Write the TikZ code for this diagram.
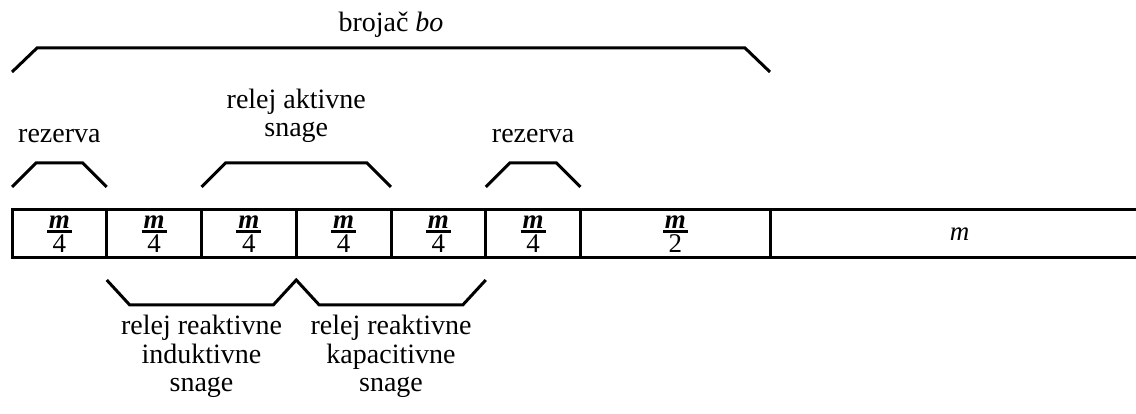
\documentclass[tikz,border=0pt]{standalone}
\usepackage{fontspec}
\setmainfont{Liberation Serif}
\usetikzlibrary{positioning,calc}
\newcommand{\dio}[1]{\vbox{\offinterlineskip\halign{\hfil##\hfil\cr
  \textbf{\textit{m}}\cr\noalign{\kern2pt}
  \vrule width 25pt height 2.5pt depth 0pt\cr\noalign{\kern2pt}
  #1\cr}}}
\tikzset{
  celija/.style={draw,line width=3pt,minimum height=48pt,inner sep=0pt,outer sep=0pt,
    font=\fontsize{27}{28.5}\selectfont},
  zagrada/.style={line width=3pt},
  oznaka/.style={align=center,inner sep=0pt,font=\fontsize{28}{28.5}\selectfont}
}

\begin{document}
\begin{tikzpicture}[x=1pt,y=1pt]
  \useasboundingbox (0,0) rectangle (1136,414);
  % traka
  \node[celija,minimum width=94.75pt] (c1) at (59.375,180) {\dio{4}};
  \node[celija,minimum width=94.75pt,right=0pt of c1] (c2) {\dio{4}};
  \node[celija,minimum width=94.75pt,right=0pt of c2] (c3) {\dio{4}};
  \node[celija,minimum width=94.75pt,right=0pt of c3] (c4) {\dio{4}};
  \node[celija,minimum width=94.75pt,right=0pt of c4] (c5) {\dio{4}};
  \node[celija,minimum width=94.75pt,right=0pt of c5] (c6) {\dio{4}};
  \node[celija,minimum width=189.5pt,right=0pt of c6] (c7) {\dio{2}};
  \node[celija,minimum width=379pt,right=0pt of c7] (c8) {\textit{m}};
  % zagrade iznad
  \draw[zagrada] ($(c1.north west)+(0,23)$) -- ++(24,24) -- ($(c1.north east)+(-24,47)$) -- ++(24,-24);
  \draw[zagrada] ($(c3.north west)+(0,23)$) -- ++(24,24) -- ($(c4.north east)+(-24,47)$) -- ++(24,-24);
  \draw[zagrada] ($(c6.north west)+(0,23)$) -- ++(24,24) -- ($(c6.north east)+(-24,47)$) -- ++(24,-24);
  \draw[zagrada] ($(c1.north west)+(0,138)$) -- ++(25,24) -- ($(c7.north east)+(-25,162)$) -- ++(25,-24);
  % zagrade ispod
  \draw[zagrada] ($(c2.south west)+(0,-22)$) -- ++(23,-25) -- ($(c3.south east)+(-23,-47)$) -- ++(23,25)
    -- ++(23,-25) -- ($(c5.south east)+(-23,-47)$) -- ++(23,25);
  % oznake
  \node[oznaka,anchor=base] (brojac) at ($(c1.north west)!0.5!(c7.north east)+(0,178)$) {brojač \textit{bo}};
  \node[oznaka,anchor=base] (rez1) at ($(c1.north)+(0,67)$) {rezerva};
  \node[oznaka,anchor=base] (rez2) at ($(c6.north)+(0,67)$) {rezerva};
  \node[oznaka,anchor=base] (aktivna) at ($(c3.north east)+(0,73)$) {relej aktivne\\snage};
  \node[oznaka,anchor=base] (induktivna) at ($(c2.south east)+(0,-134)$) {relej reaktivne\\induktivne\\snage};
  \node[oznaka,anchor=base] (kapacitivna) at ($(c4.south east)+(0,-134)$) {relej reaktivne\\kapacitivne\\snage};
\end{tikzpicture}
\end{document}
